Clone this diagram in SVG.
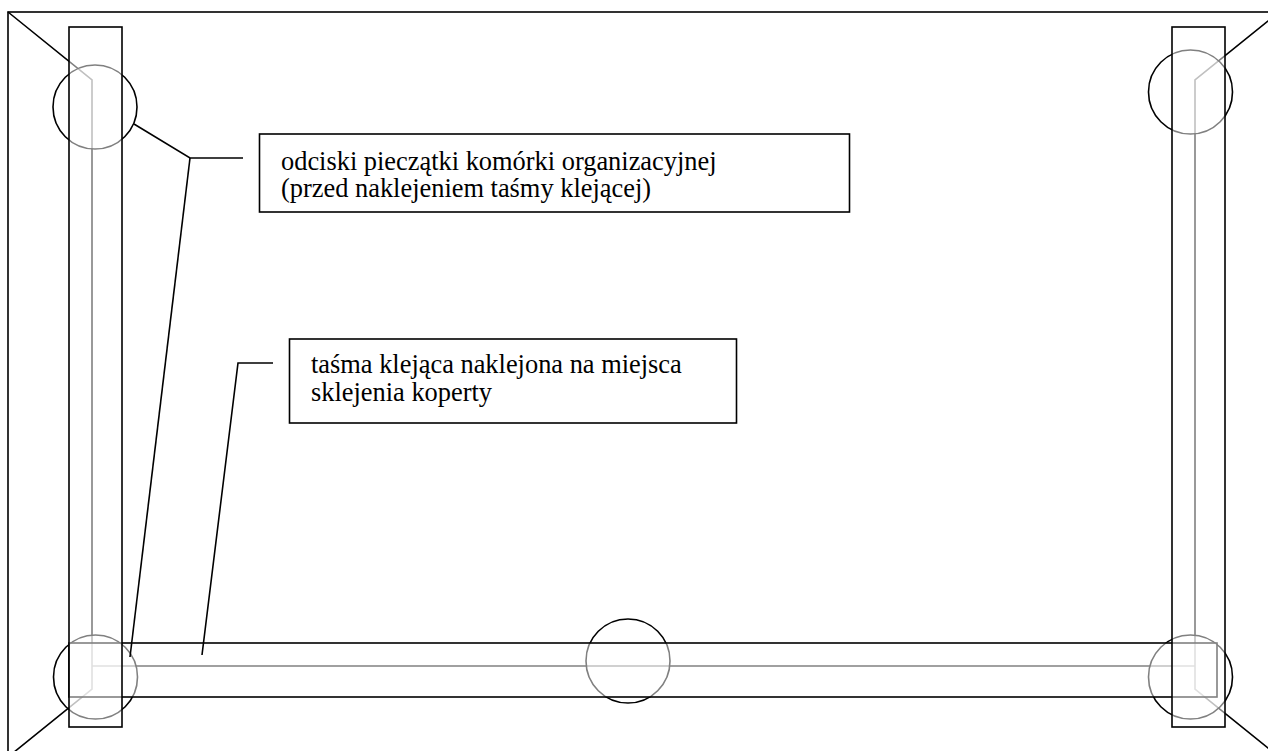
<svg xmlns="http://www.w3.org/2000/svg" width="1268" height="751" viewBox="0 0 1268 751">
  <style>
    .ln { fill: none; stroke: #000; stroke-width: 1.6; }
    .veil { fill: #fff; fill-opacity: 0.5; stroke: #000; stroke-width: 1.6; }
    .box { fill: #fff; stroke: #000; stroke-width: 1.6; }
    .txt { font-family: "Liberation Serif", "Times New Roman", "DejaVu Serif", serif; font-size: 26.4px; fill: #000; }
  </style>
  <rect width="1268" height="751" fill="#fff"/>
  <g id="envelope">
    <rect class="ln" x="8" y="12" width="1271" height="745"/>
    <path class="ln" d="M8,12 L92,80 L92,689 L8,757"/>
    <path class="ln" d="M1279,12 L1195,80 L1195,689 L1279,757"/>
    <path class="ln" d="M92,666 L1195,666"/>
  </g>
  <g id="stamps">
    <circle class="veil" cx="95" cy="107" r="42"/>
    <circle class="veil" cx="1190.5" cy="92" r="42"/>
    <circle class="veil" cx="95.5" cy="677" r="42"/>
    <circle class="veil" cx="1190.5" cy="677" r="42"/>
    <circle class="veil" cx="628" cy="661" r="42"/>
  </g>
  <g id="tape">
    <rect class="veil" x="69" y="643" width="1148" height="54"/>
    <rect class="veil" x="69" y="27" width="53" height="700"/>
    <rect class="veil" x="1172" y="27" width="53" height="700"/>
  </g>
  <g id="connectors">
    <path class="ln" d="M134,124 L190,158 L243,158"/>
    <path class="ln" d="M190,158 L130,657"/>
    <path class="ln" d="M273,363 L238,363 L202,655"/>
  </g>
  <g id="label-stamps">
    <rect class="box" x="259.5" y="134" width="590" height="78"/>
    <text class="txt" x="281" y="170">odciski pieczątki komórki organizacyjnej</text>
    <text class="txt" x="281" y="197">(przed naklejeniem taśmy klejącej)</text>
  </g>
  <g id="label-tape">
    <rect class="box" x="289.5" y="339" width="447" height="84"/>
    <text class="txt" x="311" y="373">taśma klejąca naklejona na miejsca</text>
    <text class="txt" x="311" y="401">sklejenia koperty</text>
  </g>
</svg>
